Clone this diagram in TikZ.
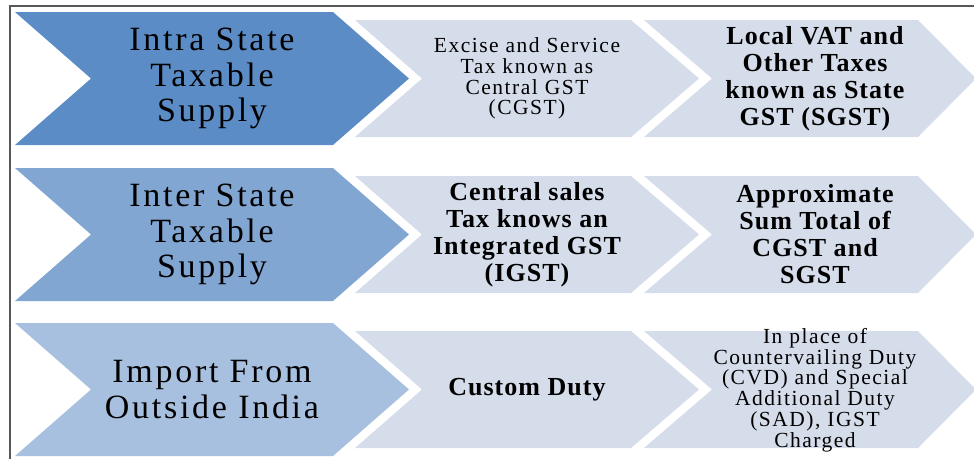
\documentclass[tikz,border=0pt]{standalone}
\usepackage{fontspec}
\setmainfont{Liberation Serif}

\definecolor{rowone}{RGB}{92,140,197}
\definecolor{rowtwo}{RGB}{130,166,210}
\definecolor{rowthree}{RGB}{168,192,223}
\definecolor{chevlight}{RGB}{213,220,234}
\definecolor{framegray}{RGB}{88,88,88}

\tikzset{
	headtext/.style={align=center, inner sep=0pt, font=\fontsize{34}{35.5}\selectfont\addfontfeature{LetterSpace=8}},
	midtext/.style={align=center, inner sep=0pt, font=\fontsize{26}{27}\selectfont\bfseries\addfontfeature{LetterSpace=4}},
	smalltext/.style={align=center, inner sep=0pt, font=\fontsize{21.5}{20.8}\selectfont\addfontfeature{LetterSpace=7}}
}

\begin{document}
\begin{tikzpicture}[x=1pt,y=-1pt]
				\clip (0,0) rectangle (974,459);
				\draw[framegray, line width=2pt] (974,6) -- (9.5,6) -- (9.5,459);
				
				\fill[rowone] (15,12) -- (333,12) -- (409,78.5) -- (333,145) -- (15,145) -- (91,78.5) -- cycle;
				\fill[rowtwo] (15,168) -- (333,168) -- (409,234.5) -- (333,301) -- (15,301) -- (91,234.5) -- cycle;
				\fill[rowthree] (15,323) -- (333,323) -- (409,389.5) -- (333,456) -- (15,456) -- (91,389.5) -- cycle;
				
				\fill[chevlight] (355,20) -- (631,20) -- (699,78.5) -- (631,137) -- (355,137) -- (422,78.5) -- cycle;
				\fill[chevlight] (644,20) -- (918,20) -- (976,78.5) -- (918,137) -- (644,137) -- (712,78.5) -- cycle;
				\fill[chevlight] (355,176) -- (631,176) -- (699,234.5) -- (631,293) -- (355,293) -- (422,234.5) -- cycle;
				\fill[chevlight] (644,176) -- (918,176) -- (976,234.5) -- (918,293) -- (644,293) -- (712,234.5) -- cycle;
				\fill[chevlight] (355,331) -- (631,331) -- (699,389.5) -- (631,448) -- (355,448) -- (422,389.5) -- cycle;
				\fill[chevlight] (644,331) -- (918,331) -- (976,389.5) -- (918,448) -- (644,448) -- (712,389.5) -- cycle;
				
				\node[headtext] (intra) at (212,78.5) {Intra State\\Taxable\\Supply};
				\node[headtext] (inter) at (212,234.5) {Inter State\\Taxable\\Supply};
				\node[headtext] (import) at (212,389.5) {Import From\\Outside India};
				
				\node[smalltext] (cgst) at (527,78.5) {Excise and Service\\Tax known as\\Central GST\\(CGST)};
				\node[midtext] (sgst) at (815,79) {Local VAT and\\Other Taxes\\known as State\\GST (SGST)};
				\node[midtext] (igst) at (527,234.5) {Central sales\\Tax knows an\\Integrated GST\\(IGST)};
				\node[midtext] (sumtotal) at (815,234.5) {Approximate\\Sum Total of\\CGST and\\SGST};
				\node[midtext] (custom) at (527,389.5) {Custom Duty};
				\node[smalltext] (cvd) at (815,390) {In place of\\Countervailing Duty\\(CVD) and Special\\Additional Duty\\(SAD), IGST\\Charged};
				\end{tikzpicture}
\end{document}
